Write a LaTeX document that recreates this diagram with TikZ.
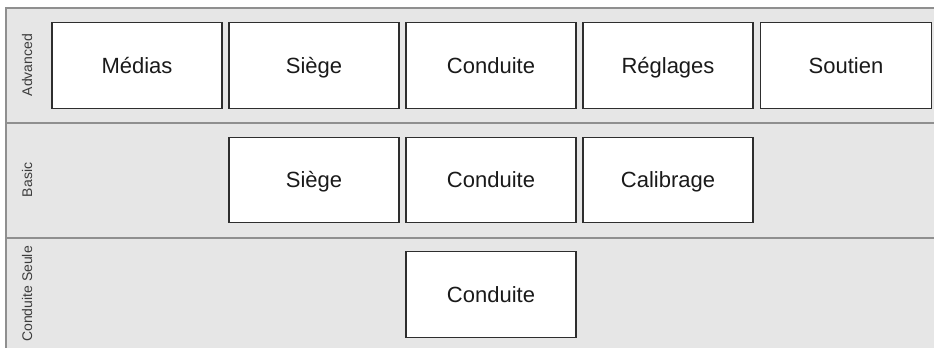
\documentclass[tikz,border=0pt]{standalone}
\usepackage{fontspec}
\setmainfont{Liberation Sans}
\definecolor{lanebg}{HTML}{E6E6E6}
\definecolor{laneline}{HTML}{8F8F8F}
\definecolor{boxline}{HTML}{2E2E2E}
\definecolor{txt}{HTML}{1A1A1A}
\begin{document}
\begin{tikzpicture}[x=1pt,y=-1pt,
  stepbox/.style={draw=boxline, line width=1.3pt, fill=white, minimum width=170pt, minimum height=85.5pt, inner sep=0pt, text=txt, font=\fontsize{22}{26}\selectfont, text height=15.8pt, text depth=0pt},
  lanelabel/.style={rotate=90, text=txt!85, font=\fontsize{14}{17}\selectfont, inner sep=0pt, text height=10pt, text depth=0pt},
  laneline/.style={draw=laneline, line width=1.6pt}]
\useasboundingbox (0,0) rectangle (934,348);
\fill[lanebg] (6,8) rectangle (934,348);
\draw[laneline] (934,8) -- (6,8) -- (6,348);
\draw[laneline] (6,123) -- (934,123);
\draw[laneline] (6,238) -- (934,238);
% lane labels
\node[lanelabel] (lA) at (27,65) {Advanced};
\node[lanelabel] (lB) at (27,180) {Basic};
\node[lanelabel] (lC) at (27,294) {Conduite Seule};
% Advanced
\node[stepbox] (a1) at (137,65.5) {Médias};
\node[stepbox] (a2) at (314,65.5) {Siège};
\node[stepbox] (a3) at (491,65.5) {Conduite};
\node[stepbox] (a4) at (668,65.5) {Réglages};
\node[stepbox, minimum width=171pt] (a5) at (846,65.5) {Soutien};
% Basic
\node[stepbox] (b1) at (314,180) {Siège};
\node[stepbox] (b2) at (491,180) {Conduite};
\node[stepbox] (b3) at (668,180) {Calibrage};
% Conduite Seule
\node[stepbox] (c1) at (491,294.5) {Conduite};
\end{tikzpicture}
\end{document}
